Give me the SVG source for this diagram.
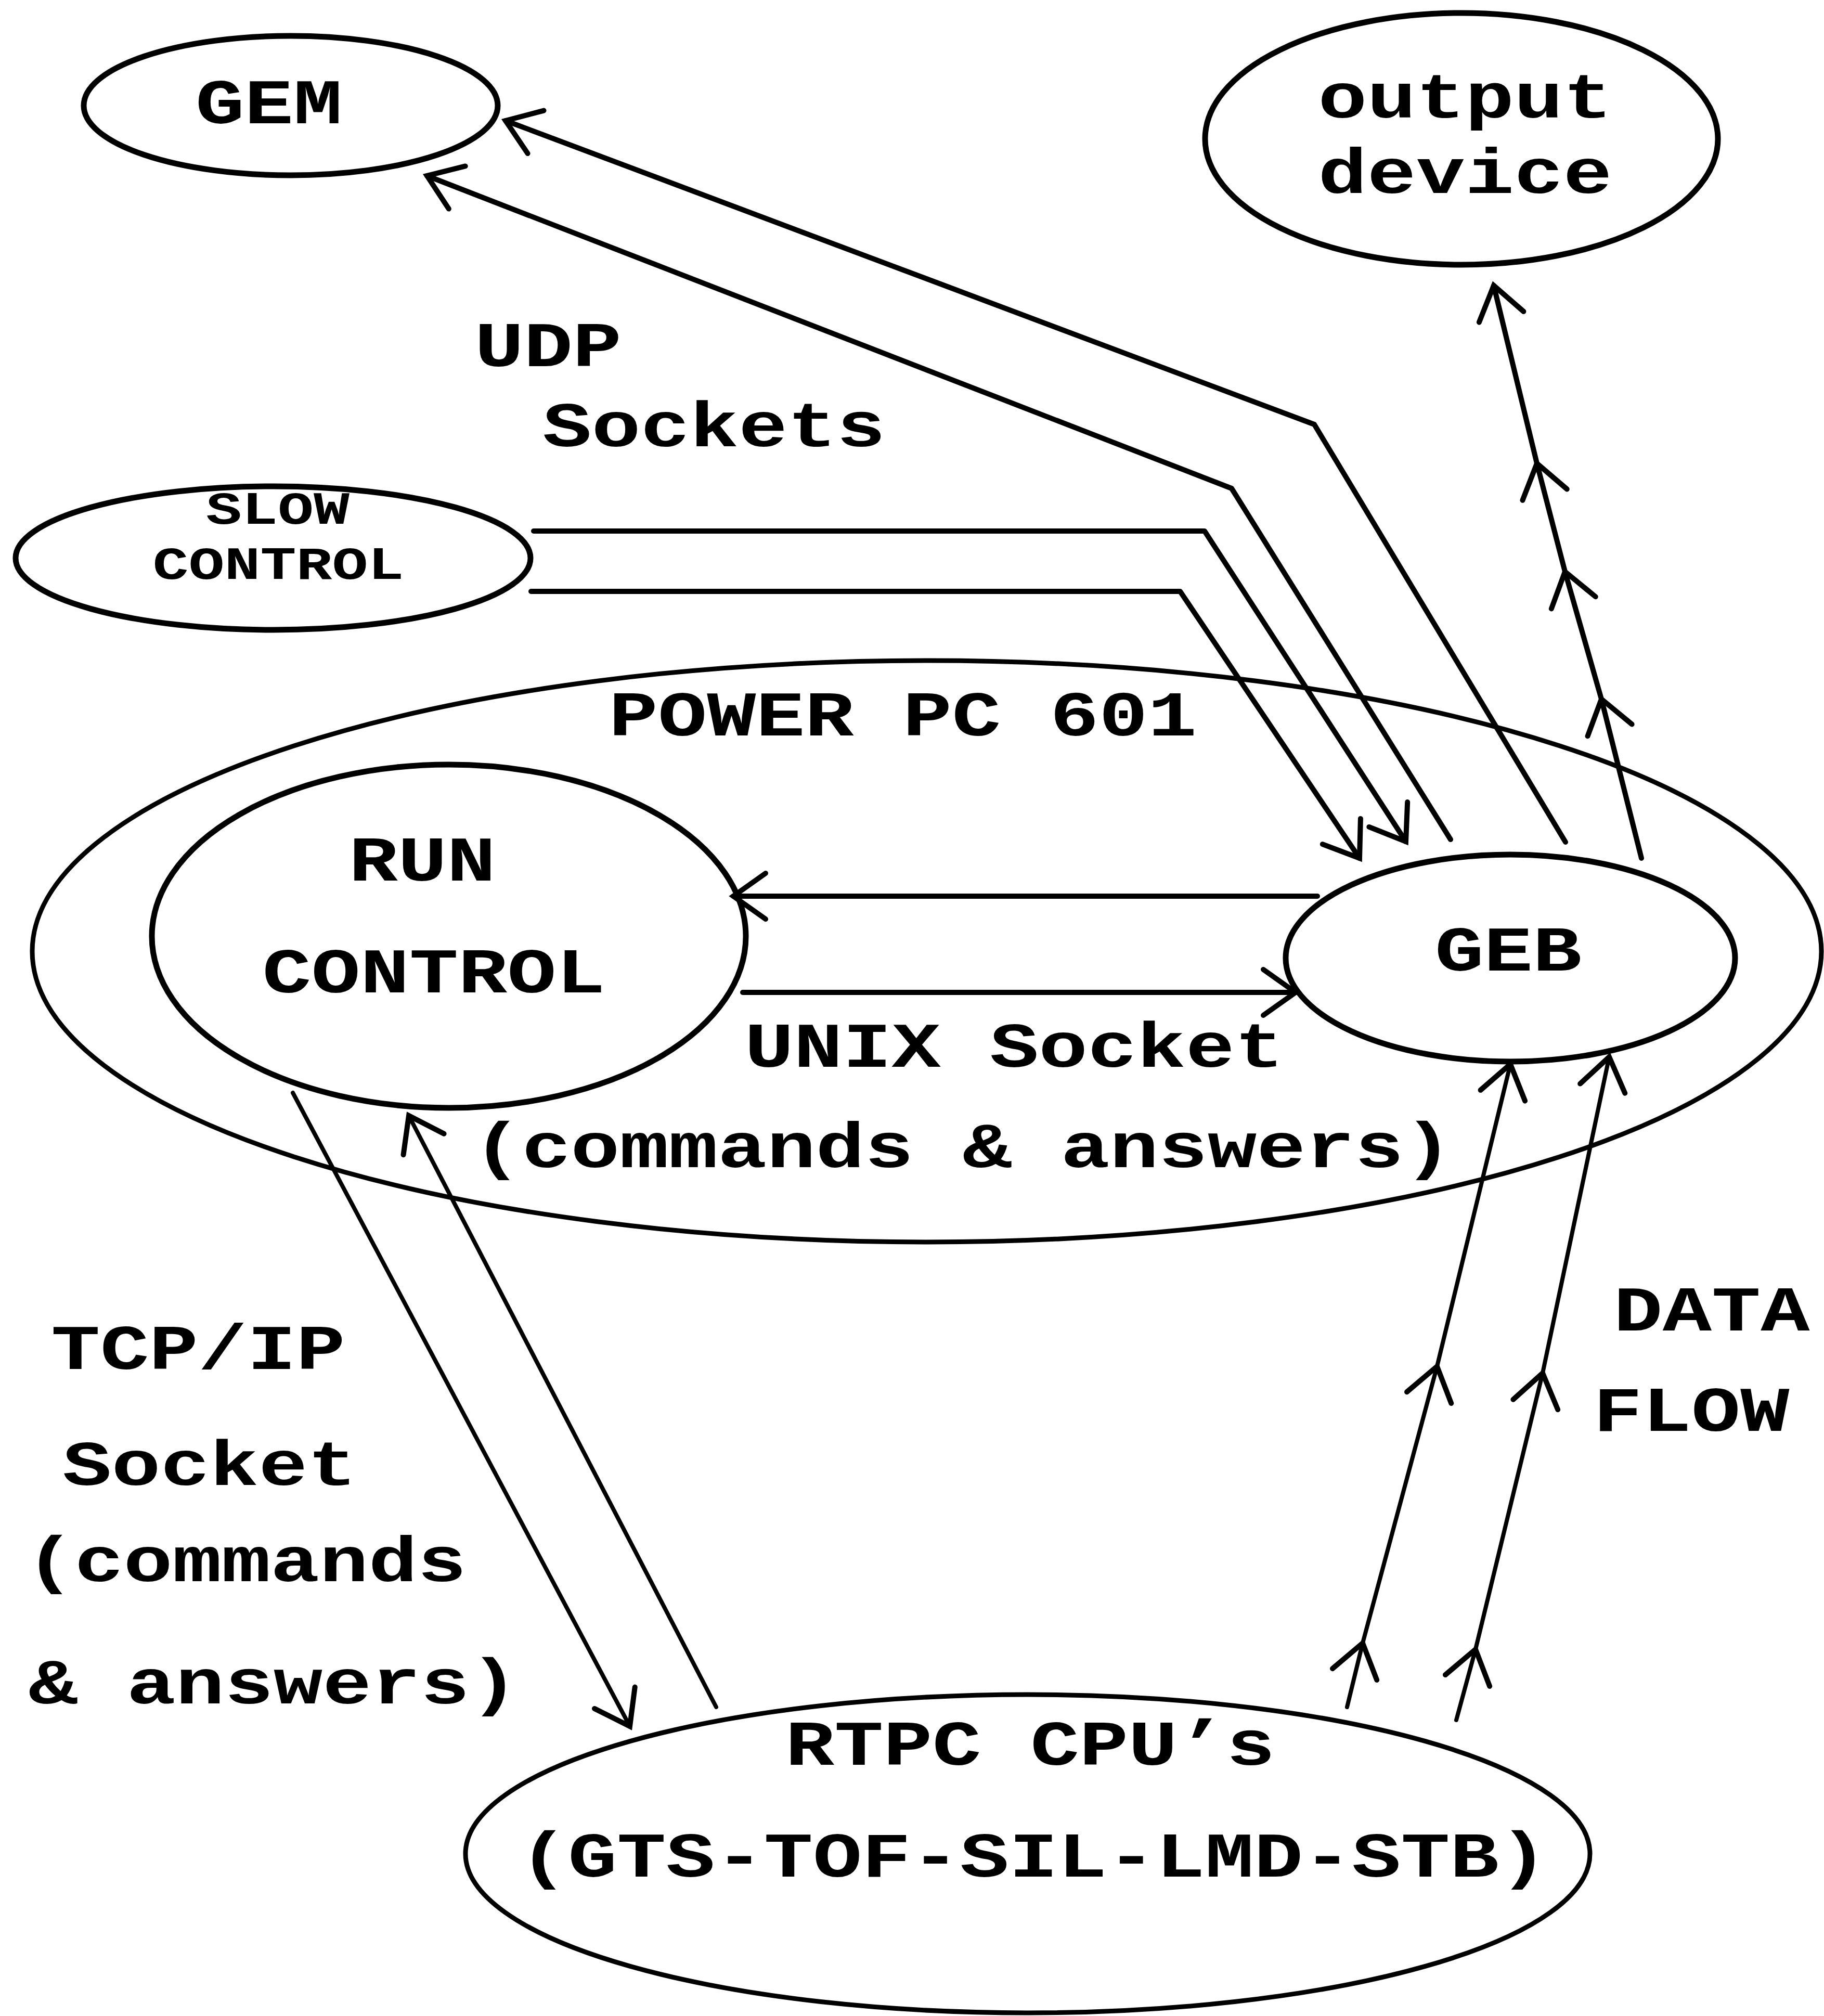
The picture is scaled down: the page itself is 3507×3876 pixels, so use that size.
<svg xmlns="http://www.w3.org/2000/svg" width="3507" height="3876" viewBox="0 0 3507 3876">
<style>
.n ellipse{fill:none;stroke:#000;stroke-width:11}
.t{font-family:"Liberation Mono","DejaVu Sans Mono",monospace;font-weight:bold;font-size:157px;text-anchor:middle;fill:#000}
.s{font-size:115px}
.c path,.c polyline{fill:none;stroke:#000;stroke-width:10;stroke-linejoin:round;stroke-linecap:round}
</style>
<defs>
<marker id="ah" markerUnits="userSpaceOnUse" viewBox="-100 -100 200 200" markerWidth="200" markerHeight="200" refX="0" refY="0" orient="auto" overflow="visible">
<path d="M -62 -44 L 0 0 L -62 44" fill="none" stroke="#000" stroke-width="10" stroke-linecap="round" stroke-linejoin="miter"/>
</marker>
</defs>
<rect width="3507" height="3876" fill="#fff"/>
<g id="powerpc" class="n"><ellipse cx="1782" cy="1829" rx="1720" ry="559" style="stroke-width:9"/><text class="t" transform="translate(1736,1414) scale(1,0.78)">POWER PC 601</text></g>
<g id="gem" class="n"><ellipse cx="559" cy="203" rx="398" ry="134"/><text class="t" transform="translate(517,237) scale(1,0.78)">GEM</text></g>
<g id="output" class="n"><ellipse cx="2810" cy="267" rx="493" ry="242"/><text class="t" transform="translate(2817,226) scale(1,0.78)">output</text><text class="t" transform="translate(2817,371) scale(1,0.78)">device</text></g>
<g id="slow" class="n"><ellipse cx="525" cy="1073" rx="495" ry="138"/><text class="t s" transform="translate(534,1007) scale(1,0.78)">SLOW</text><text class="t s" transform="translate(535,1113) scale(1,0.78)">CONTROL</text></g>
<g id="run" class="n"><ellipse cx="863" cy="1800" rx="571" ry="330"/><text class="t" transform="translate(812,1693) scale(1,0.78)">RUN</text><text class="t" transform="translate(834,1908) scale(1,0.78)">CONTROL</text></g>
<g id="geb" class="n"><ellipse cx="2904" cy="1842" rx="432" ry="199"/><text class="t" transform="translate(2900,1866) scale(1,0.78)">GEB</text></g>
<g id="rtpc" class="n"><ellipse cx="1976" cy="3564" rx="1081" ry="306" style="stroke-width:9"/><text class="t" transform="translate(1981,3393) scale(1,0.78)">RTPC CPU’s</text><text class="t" transform="translate(1987,3608) scale(1,0.78)">(GTS-TOF-SIL-LMD-STB)</text></g>
<g id="connectors" class="c">
<polyline points="3010,1619 2527,816 972,232" marker-end="url(#ah)"/>
<polyline points="2789,1614 2368,939 821,338" marker-end="url(#ah)"/>
<polyline points="1026,1021 2316,1021 2703,1618" marker-end="url(#ah)"/>
<polyline points="1021,1137 2269,1137 2614,1650" marker-end="url(#ah)"/>
<polyline points="2533,1723 1410,1723" marker-end="url(#ah)"/>
<polyline points="1428,1908 2491,1908" marker-end="url(#ah)"/>
<polyline points="563,2101 1211,3319" marker-end="url(#ah)" style="stroke-width:8"/>
<polyline points="1377,3282 786,2145" marker-end="url(#ah)" style="stroke-width:8"/>
<polyline points="3156,1650 3079,1344 3009,1099 2955,891 2872,549" marker-mid="url(#ah)" marker-end="url(#ah)"/>
<polyline points="2590,3282 2620,3159 2763,2627 2904,2046" marker-mid="url(#ah)" marker-end="url(#ah)" style="stroke-width:8"/>
<polyline points="2800,3307 2837,3171 2966,2640 3094,2032" marker-mid="url(#ah)" marker-end="url(#ah)" style="stroke-width:8"/>
</g>
<g id="labels">
<text class="t" transform="translate(1054,704) scale(1,0.78)">UDP</text>
<text class="t" transform="translate(1373,858) scale(1,0.78)">Sockets</text>
<text class="t" transform="translate(1950,2051) scale(1,0.78)">UNIX Socket</text>
<text class="t" transform="translate(1851,2244) scale(1,0.78)">(commands &amp; answers)</text>
<text class="t" transform="translate(381,2632) scale(1,0.78)">TCP/IP</text>
<text class="t" transform="translate(403,2855) scale(1,0.78)">Socket</text>
<text class="t" transform="translate(473,3040) scale(1,0.78)">(commands</text>
<text class="t" transform="translate(526,3275) scale(1,0.78)">&amp; answers)</text>
<text class="t" transform="translate(3291,2558) scale(1,0.78)">DATA</text>
<text class="t" transform="translate(3252,2751) scale(1,0.78)">FLOW</text>
</g>
</svg>
